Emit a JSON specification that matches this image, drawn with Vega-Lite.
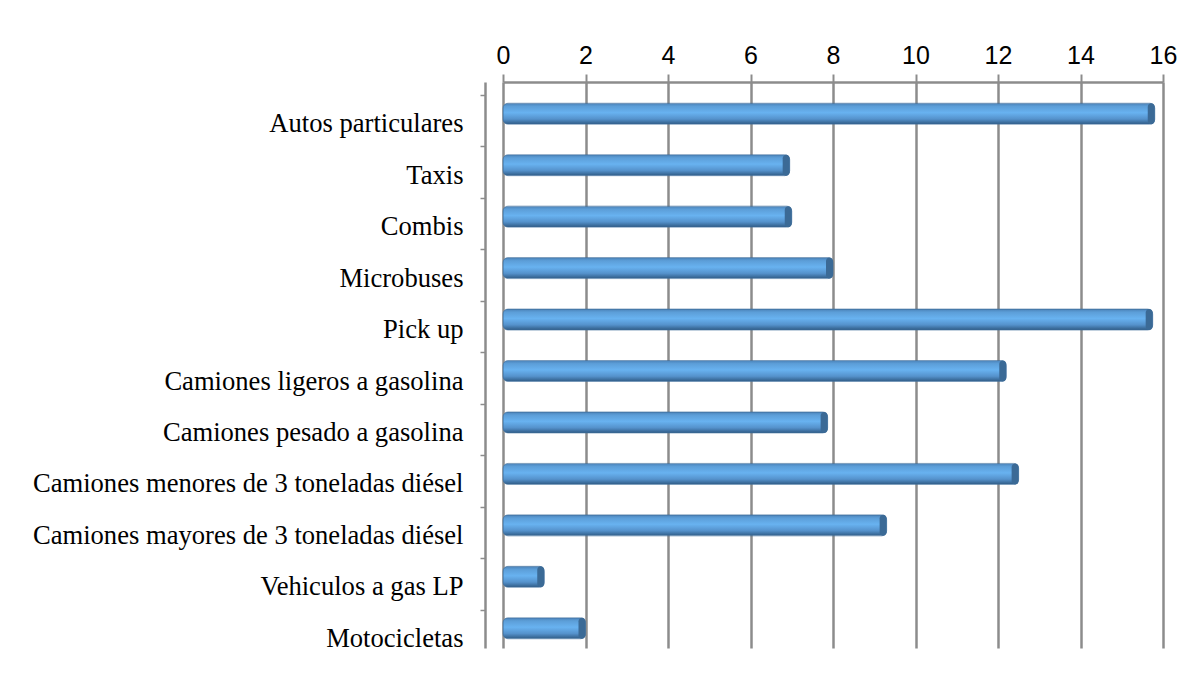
{
  "$schema": "https://vega.github.io/schema/vega-lite/v6.json",
  "width": 660,
  "height": 566,
  "autosize": {"type": "none"},
  "padding": {"left": 503, "top": 82, "right": 38, "bottom": 39},
  "background": "white",
  "config": {"view": {"stroke": null}},
  "data": {
    "values": [
      {"tipo": "Autos particulares", "valor": 15.8},
      {"tipo": "Taxis", "valor": 6.95},
      {"tipo": "Combis", "valor": 7.0},
      {"tipo": "Microbuses", "valor": 8.0},
      {"tipo": "Pick up", "valor": 15.75},
      {"tipo": "Camiones ligeros a gasolina", "valor": 12.2},
      {"tipo": "Camiones pesado a gasolina", "valor": 7.87},
      {"tipo": "Camiones menores de 3 toneladas diésel", "valor": 12.5},
      {"tipo": "Camiones mayores de 3 toneladas diésel", "valor": 9.3},
      {"tipo": "Vehiculos a gas LP", "valor": 1.0},
      {"tipo": "Motocicletas", "valor": 2.0}
    ]
  },
  "encoding": {
    "y": {
      "field": "tipo",
      "type": "nominal",
      "sort": null,
      "scale": {"paddingInner": 0, "paddingOuter": 0},
      "axis": {
        "title": null,
        "orient": "left",
        "offset": 18,
        "domainColor": "#8c8c8c",
        "domainWidth": 2.5,
        "tickColor": "#8c8c8c",
        "tickWidth": 1.5,
        "tickSize": 5,
        "bandPosition": 0,
        "tickOffset": 13,
        "labelOffset": 3,
        "labelPadding": 17,
        "labelLimit": 0,
        "labelFont": "Liberation Serif",
        "labelFontSize": 26.6,
        "labelColor": "#000000",
        "grid": false
      }
    },
    "x": {
      "field": "valor",
      "type": "quantitative",
      "scale": {"domain": [0, 16], "nice": false},
      "axis": {
        "title": null,
        "orient": "top",
        "values": [0, 2, 4, 6, 8, 10, 12, 14, 16],
        "grid": true,
        "gridColor": "#8c8c8c",
        "gridWidth": 2.5,
        "domainColor": "#8c8c8c",
        "domainWidth": 2.5,
        "tickColor": "#8c8c8c",
        "tickWidth": 2,
        "tickSize": 8,
        "labelFlush": false,
        "labelFont": "Liberation Sans",
        "labelFontSize": 25,
        "labelColor": "#000000",
        "labelPadding": 6
      }
    }
  },
  "layer": [
    {
      "mark": {
        "type": "bar",
        "height": 21,
        "yOffset": 6,
        "cornerRadius": 5,
        "stroke": "#3f6f9c",
        "strokeWidth": 0.6,
        "color": {
          "gradient": "linear",
          "x1": 0, "y1": 0, "x2": 0, "y2": 1,
          "stops": [
            {"offset": 0, "color": "#4a82b8"},
            {"offset": 0.15, "color": "#5c9ed8"},
            {"offset": 0.45, "color": "#68b2f0"},
            {"offset": 0.75, "color": "#5592cc"},
            {"offset": 1, "color": "#2f5b85"}
          ]
        }
      }
    },
    {
      "mark": {
        "type": "tick",
        "orient": "vertical",
        "size": 21,
        "thickness": 7,
        "yOffset": 6,
        "xOffset": -3.5,
        "cornerRadius": 3.5,
        "color": "#3b6a96",
        "opacity": 1
      }
    }
  ]
}
